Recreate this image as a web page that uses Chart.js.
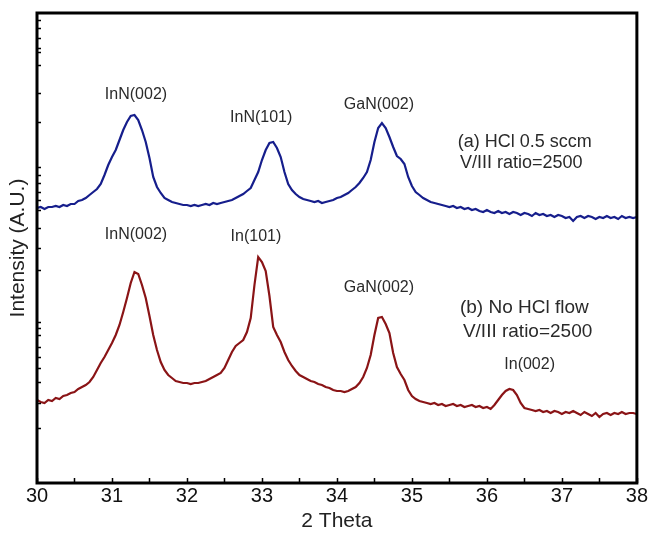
<!DOCTYPE html>
<html>
<head>
<meta charset="utf-8">
<script src="https://cdn.jsdelivr.net/npm/chart.js@4"></script>
<style>
  body { margin: 0; background: #fff; }
</style>
</head>
<body>
<canvas id="chart" width="649" height="538"></canvas>
<script>
// 2 theta sampling grid (degrees)
const theta = [
  30.00,30.05,30.10,30.15,30.20,30.25,30.30,30.35,30.40,30.45,30.50,30.55,30.60,30.65,30.70,30.75,30.80,30.85,30.90,30.95,
  31.00,31.05,31.10,31.15,31.20,31.25,31.30,31.35,31.40,31.45,31.50,31.55,31.60,31.65,31.70,31.75,31.80,31.85,31.90,31.95,
  32.00,32.05,32.10,32.15,32.20,32.25,32.30,32.35,32.40,32.45,32.50,32.55,32.60,32.65,32.70,32.75,32.80,32.85,32.90,32.95,
  33.00,33.05,33.10,33.15,33.20,33.25,33.30,33.35,33.40,33.45,33.50,33.55,33.60,33.65,33.70,33.75,33.80,33.85,33.90,33.95,
  34.00,34.05,34.10,34.15,34.20,34.25,34.30,34.35,34.40,34.45,34.50,34.55,34.60,34.65,34.70,34.75,34.80,34.85,34.90,34.95,
  35.00,35.05,35.10,35.15,35.20,35.25,35.30,35.35,35.40,35.45,35.50,35.55,35.60,35.65,35.70,35.75,35.80,35.85,35.90,35.95,
  36.00,36.05,36.10,36.15,36.20,36.25,36.30,36.35,36.40,36.45,36.50,36.55,36.60,36.65,36.70,36.75,36.80,36.85,36.90,36.95,
  37.00,37.05,37.10,37.15,37.20,37.25,37.30,37.35,37.40,37.45,37.50,37.55,37.60,37.65,37.70,37.75,37.80,37.85,37.90,37.95,
  38.00
];

// (a) HCl 0.5 sccm
const hclFlow = [
  275,276,274,276,276,277,276,278,277,279,279,282,283,285,288,291,294,299,308,318,
  326,333,343,353,361,367,368,363,353,341,325,306,296,290,285,283,281,280,279,278,
  278,277,278,277,278,279,278,280,279,280,281,282,283,285,287,289,292,295,303,311,
  323,333,340,341,335,326,311,299,293,289,286,284,283,282,281,282,280,281,282,283,
  285,286,288,290,293,296,300,305,311,323,341,355,360,355,346,336,327,324,319,306,
  297,291,288,285,283,281,280,279,278,277,276,277,275,276,274,275,273,274,272,271,
  273,271,270,272,270,271,269,271,270,268,270,269,267,270,268,269,267,268,266,268,
  267,265,266,262,266,267,265,267,266,264,266,265,267,265,266,264,267,265,266,265,
  266
];

// (b) No HCl flow
const noHclFlow = [
  83,81,80,83,82,85,84,87,88,90,91,94,96,98,101,106,113,120,126,133,
  140,148,158,171,185,200,211,209,198,185,167,148,133,121,113,108,105,102,101,100,
  100,99,100,100,101,102,104,106,108,110,115,123,131,137,140,143,151,165,198,226,
  221,212,187,156,148,141,131,123,117,112,108,106,104,102,101,99,98,96,95,93,
  92,92,91,92,94,96,100,106,115,128,148,165,166,159,150,130,116,109,103,93,
  87,84,82,81,80,79,80,78,79,77,78,79,77,78,76,77,78,76,77,75,
  76,74,78,83,88,92,94,93,88,80,75,74,73,72,73,71,72,70,72,71,
  69,71,70,72,70,68,71,69,67,70,66,69,70,68,70,69,71,69,70,70,
  69
];

// unlabelled tick marks on the intensity axis
const yTickValues = [463,455,445,435,431,418,390,361,316,308,300,291,283,273,255,235,213,161,155,148,136,126,115,101,80,55];

const FONT = "'Liberation Sans', Arial, sans-serif";

const notes = [
  { text: 'InN(002)', x: 31.32, y: 388, size: 16, align: 'center' },
  { text: 'InN(101)', x: 32.99, y: 365, size: 16, align: 'center' },
  { text: 'GaN(002)', x: 34.56, y: 378, size: 16, align: 'center' },
  { text: '(a) HCl 0.5 sccm', x: 35.61, y: 341, size: 18, align: 'left' },
  { text: 'V/III ratio=2500', x: 35.64, y: 320, size: 18, align: 'left' },
  { text: 'InN(002)', x: 31.32, y: 248, size: 16, align: 'center' },
  { text: 'In(101)', x: 32.92, y: 246, size: 16, align: 'center' },
  { text: 'GaN(002)', x: 34.56, y: 195, size: 16, align: 'center' },
  { text: '(b) No HCl flow', x: 35.64, y: 175, size: 19, align: 'left' },
  { text: 'V/III ratio=2500', x: 35.68, y: 151, size: 19, align: 'left' },
  { text: 'In(002)', x: 36.57, y: 118, size: 16, align: 'center' }
];

const framePlugin = {
  id: 'frame',
  afterDatasetsDraw(chart) {
    const ctx = chart.ctx;
    const a = chart.chartArea;
    const x = chart.scales.x;
    const y = chart.scales.y;
    ctx.save();
    ctx.strokeStyle = '#000';
    ctx.lineWidth = 1.5;
    ctx.beginPath();
    x.ticks.forEach(function(t) {
      const px = Math.round(x.getPixelForValue(t.value)) + 0.5;
      ctx.moveTo(px, a.bottom);
      ctx.lineTo(px, a.bottom - 5);
    });
    y.ticks.forEach(function(t) {
      const py = Math.round(y.getPixelForValue(t.value)) + 0.5;
      ctx.moveTo(a.left, py);
      ctx.lineTo(a.left + 4, py);
    });
    ctx.stroke();
    ctx.lineWidth = 3;
    ctx.strokeRect(a.left, a.top, a.right - a.left, a.bottom - a.top);

    ctx.fillStyle = '#2a2a2a';
    ctx.textBaseline = 'middle';
    notes.forEach(function(n) {
      ctx.font = n.size + 'px ' + FONT;
      ctx.textAlign = n.align;
      ctx.fillText(n.text, x.getPixelForValue(n.x), y.getPixelForValue(n.y));
    });
    ctx.restore();
  }
};

const data = {
  datasets: [{
    label: '(a) HCl 0.5 sccm',
    data: theta.map(function(t, i) { return { x: t, y: hclFlow[i] }; }),
    borderColor: 'rgb(22, 30, 140)',
    borderWidth: 2.2,
    pointRadius: 0,
    tension: 0
  }, {
    label: '(b) No HCl flow',
    data: theta.map(function(t, i) { return { x: t, y: noHclFlow[i] }; }),
    borderColor: 'rgb(138, 20, 22)',
    borderWidth: 2.2,
    pointRadius: 0,
    tension: 0
  }]
};

const config = {
  type: 'line',
  data: data,
  options: {
    responsive: false,
    animation: false,
    layout: { padding: { left: 0, right: 11, top: 13, bottom: 0 } },
    plugins: { legend: { display: false }, tooltip: { enabled: false } },
    scales: {
      x: {
        type: 'linear',
        min: 30,
        max: 38,
        grid: { display: false, drawTicks: false },
        border: { display: false },
        ticks: {
          stepSize: 0.5,
          autoSkip: false,
          maxRotation: 0,
          padding: 1,
          color: '#111',
          font: { family: FONT, size: 20 },
          callback: function(v) { return Number.isInteger(v) ? String(v) : ''; }
        },
        title: {
          display: true,
          text: '2 Theta',
          color: '#222',
          font: { family: FONT, size: 21 },
          padding: { top: 0, bottom: 4 }
        },
        afterFit: function(scale) { scale.height = 55; }
      },
      y: {
        type: 'linear',
        min: 0,
        max: 470,
        grid: { display: false, drawTicks: false },
        border: { display: false },
        ticks: { display: false },
        afterBuildTicks: function(scale) {
          scale.ticks = yTickValues.map(function(v) { return { value: v }; });
        },
        title: {
          display: true,
          text: 'Intensity (A.U.)',
          color: '#222',
          font: { family: FONT, size: 21 },
          padding: { top: 6, bottom: 0 }
        },
        afterFit: function(scale) { scale.width = 37; }
      }
    }
  },
  plugins: [framePlugin]
};

const myChart = new Chart(
  document.getElementById('chart'),
  config
);
</script>
</body>
</html>
